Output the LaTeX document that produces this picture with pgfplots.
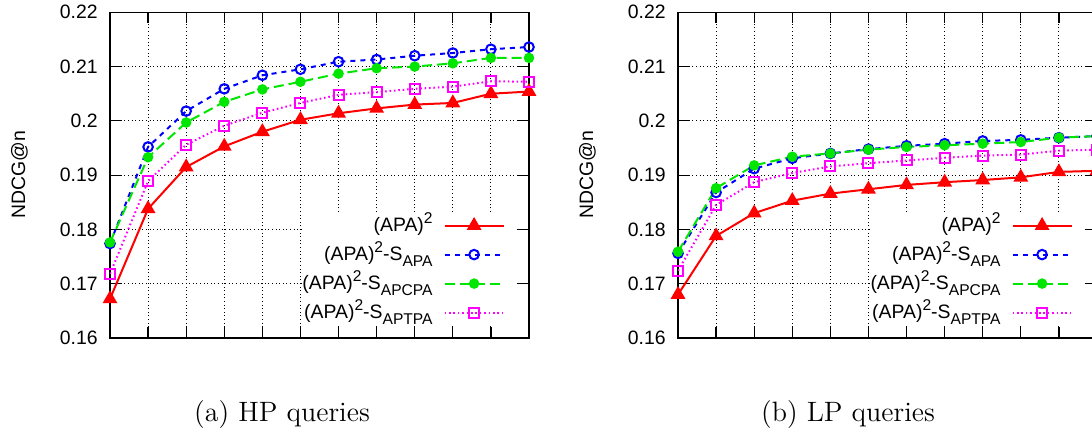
\documentclass[border=0pt]{standalone}
\usepackage{fontspec}
\usepackage{pgfplots}
\usepackage{pgfplotstable}
\pgfplotsset{compat=1.18}
\newfontfamily\hel{Liberation Sans}
\newcommand{\sfs}{\hel\fontsize{9.7bp}{11bp}\selectfont}
\newcommand{\spow}[1]{\raisebox{0.42em}{\fontsize{7.8bp}{8bp}\selectfont #1}}
\newcommand{\ssub}[1]{\raisebox{-0.28em}{\fontsize{7.8bp}{8bp}\selectfont #1}}
\definecolor{cred}{RGB}{255,0,0}
\definecolor{cblue}{RGB}{0,0,255}
\definecolor{cgreen}{RGB}{0,230,0}
\definecolor{cmag}{RGB}{255,0,255}

\pgfplotstableread{
x apa sapa sapcpa saptpa
1 0.1672 0.1774 0.1776 0.1718
2 0.1838 0.1952 0.1933 0.1889
3 0.1915 0.2018 0.1997 0.1956
4 0.1953 0.2059 0.2035 0.1991
5 0.1980 0.2084 0.2058 0.2015
6 0.2002 0.2095 0.2072 0.2033
7 0.2014 0.2109 0.2087 0.2048
8 0.2023 0.2113 0.2097 0.2053
9 0.2030 0.2120 0.2100 0.2059
10 0.2033 0.2125 0.2106 0.2063
11 0.2050 0.2132 0.2116 0.2073
12 0.2054 0.2136 0.2116 0.2072
}\hpdata

\pgfplotstableread{
x apa sapa sapcpa saptpa
1 0.1680 0.1756 0.1759 0.1724
2 0.1788 0.1868 0.1876 0.1845
3 0.1830 0.1912 0.1918 0.1887
4 0.1853 0.1931 0.1934 0.1904
5 0.1866 0.1940 0.1940 0.1916
6 0.1874 0.1948 0.1947 0.1922
7 0.1882 0.1954 0.1952 0.1927
8 0.1887 0.1958 0.1955 0.1932
9 0.1891 0.1963 0.1958 0.1936
10 0.1896 0.1965 0.1961 0.1938
11 0.1906 0.1969 0.1969 0.1945
12 0.1908 0.1972 0.1972 0.1947
}\lpdata

\pgfplotsset{
  legend image code/.code={\draw[mark repeat=2,mark phase=2,#1] plot coordinates {(0bp,0bp) (14.75bp,0bp) (29.5bp,0bp)}; \path (35bp,0bp);},
  ndcg/.style={
    scale only axis, width=209.5bp, height=162.85bp, anchor=south west,
    xmin=1, xmax=12, ymin=0.16, ymax=0.22,
    xtick={1,...,12}, xticklabels={},
    ytick={0.16,0.17,0.18,0.19,0.2,0.21,0.22},
    yticklabels={0.16,0.17,0.18,0.19,0.2,0.21,0.22},
    tick align=inside, major tick length=5.5bp,
    tick style={black, line width=0.6bp},
    axis line style={line width=0.7bp},
    grid=major,
    major grid style={black, line width=0.5bp, dash pattern=on 0.5bp off 1.3bp},
    yticklabel style={font=\sfs, inner sep=0pt, xshift=-6bp},
    legend style={at={(rel axis cs:1,0)}, anchor=south east, xshift=-6.5bp, yshift=6.5bp,
      inner sep=0pt, fill=white, draw=none, font=\sfs,
      nodes={inner sep=0pt, text height=9bp, text depth=3bp},
      row sep=2.5bp, column sep=5.5bp},
    legend plot pos=right,
    legend cell align=right,
  },
  s1/.style={cred, line width=1bp, solid, mark=triangle*, mark size=3.3bp, mark options={solid}},
  s2/.style={cblue, line width=1bp, dash pattern=on 2.5bp off 2.5bp, mark=o, mark size=2.4bp, mark options={solid}},
  s3/.style={cgreen, line width=1bp, dash pattern=on 5bp off 2.5bp, mark=*, mark size=2.1bp, mark options={solid}},
  s4/.style={cmag, line width=1bp, dash pattern=on 0.8bp off 1.4bp, mark=square, mark size=2.5bp, mark options={solid}},
}

\begin{document}
\begin{tikzpicture}
\begin{axis}[ndcg, at={(55bp,50.5bp)}]
\addplot[s1] table[x=x,y=apa] {\hpdata}; \addlegendentry{(APA)\spow{2}}
\addplot[s2] table[x=x,y=sapa] {\hpdata}; \addlegendentry{(APA)\spow{2}-S\ssub{APA}}
\addplot[s3] table[x=x,y=sapcpa] {\hpdata}; \addlegendentry{(APA)\spow{2}-S\ssub{APCPA}}
\addplot[s4] table[x=x,y=saptpa] {\hpdata}; \addlegendentry{(APA)\spow{2}-S\ssub{APTPA}}
\end{axis}
\begin{axis}[ndcg, at={(339bp,50.5bp)}]
\addplot[s1] table[x=x,y=apa] {\lpdata}; \addlegendentry{(APA)\spow{2}}
\addplot[s2] table[x=x,y=sapa] {\lpdata}; \addlegendentry{(APA)\spow{2}-S\ssub{APA}}
\addplot[s3] table[x=x,y=sapcpa] {\lpdata}; \addlegendentry{(APA)\spow{2}-S\ssub{APCPA}}
\addplot[s4] table[x=x,y=saptpa] {\lpdata}; \addlegendentry{(APA)\spow{2}-S\ssub{APTPA}}
\end{axis}
\node[rotate=90, font=\sfs] at (9.75bp,132bp) {NDCG@n};
\node[rotate=90, font=\sfs] at (293.75bp,132bp) {NDCG@n};
\node[font=\fontsize{14bp}{16bp}\selectfont] at (141bp,12bp) {(a) HP queries};
\node[font=\fontsize{14bp}{16bp}\selectfont] at (424bp,12bp) {(b) LP queries};
\pgfresetboundingbox
\path[use as bounding box] (0bp,0bp) rectangle (546bp,219.5bp);
\end{tikzpicture}
\end{document}
